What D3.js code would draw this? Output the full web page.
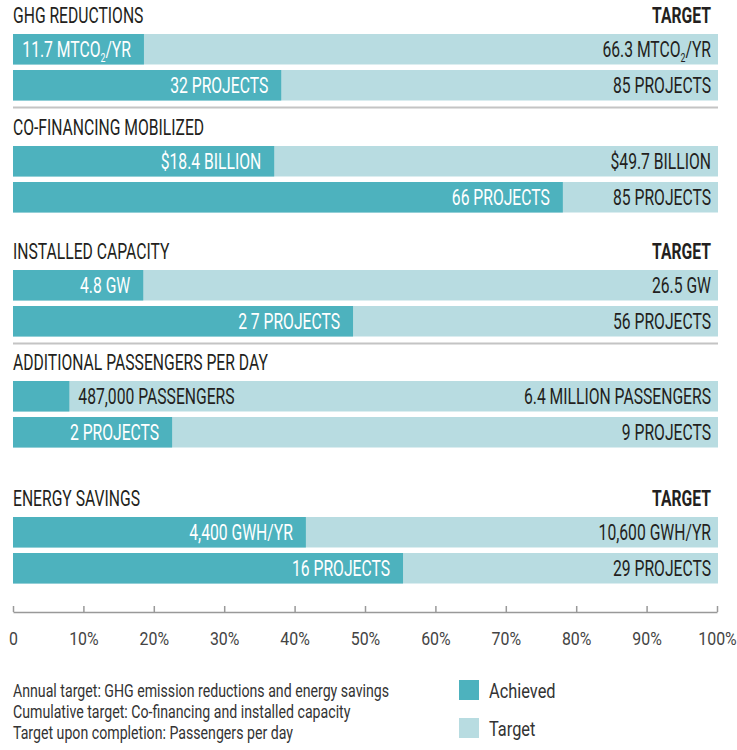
<!DOCTYPE html>
<html lang="en">
<head>
<meta charset="UTF-8">
<title>Results vs targets</title>
<script src="https://d3js.org/d3.v7.min.js"></script>
<style>
    body { margin: 0; background: #fff; }
    svg text { font-family: Roboto, "Noto Sans", sans-serif; }
</style>
</head>
<body>
<div id="chart"></div>
<script>
    // data
    const metrics = ["GHG REDUCTIONS", "CO-FINANCING MOBILIZED", "INSTALLED CAPACITY",
                     "ADDITIONAL PASSENGERS PER DAY", "ENERGY SAVINGS"];
    const achievedLabels = ["11.7 MTCO₂/YR", "$18.4 BILLION", "4.8 GW", "487,000 PASSENGERS", "4,400 GWH/YR"];
    const targetLabels = ["66.3 MTCO₂/YR", "$49.7 BILLION", "26.5 GW", "6.4 MILLION PASSENGERS", "10,600 GWH/YR"];
    const achievedPct = [18.6, 37.1, 18.5, 8.0, 41.6];
    const projectLabels = ["32 PROJECTS", "66 PROJECTS", "2 7 PROJECTS", "2 PROJECTS", "16 PROJECTS"];
    const projectTargetLabels = ["85 PROJECTS", "85 PROJECTS", "56 PROJECTS", "9 PROJECTS", "29 PROJECTS"];
    const projectPct = [38.1, 78.1, 48.3, 22.6, 55.4];
    const showTarget = [true, false, true, false, true];
    const dividerAfter = [true, false, true, false, false];
    const tickValues = [0, 10, 20, 30, 40, 50, 60, 70, 80, 90, 100];
    const notes = ["Annual target: GHG emission reductions and energy savings",
                   "Cumulative target: Co-financing and installed capacity",
                   "Target upon completion: Passengers per day"];
    const legendItems = ["Achieved", "Target"];

    const colAchieved = "#4db2be", colTarget = "#b8dce1", ink = "#231f20";
    const squeeze = 0.73; // fake condensed face

    const width = 737, height = 750;
    const svg = d3.select("#chart").append("svg")
        .attr("width", width).attr("height", height);

    const x = d3.scaleLinear().domain([0, 100]).range([13, 717]);
    const sectionY = [34, 146, 270, 381, 517];
    const rowY = d3.scaleBand().domain(["value", "projects"]).range([0, 66.5]).paddingInner(0.153);
    const bh = rowY.bandwidth();

    // text with horizontal squeeze, handles the subscript 2
    function label(g, tx, ty, str, o = {}) {
        const sx = o.sx || squeeze;
        const t = g.append("text")
            .attr("transform", `translate(${tx},${ty}) scale(${sx},1)`)
            .attr("text-anchor", o.anchor || "start")
            .attr("font-size", o.size || 21.5)
            .attr("font-weight", o.weight || 400)
            .attr("fill", o.fill || ink);
        const parts = str.split("₂");
        if (parts.length === 2) {
            t.append("tspan").text(parts[0]);
            t.append("tspan").text("2").attr("font-size", 12).attr("dy", 5);
            t.append("tspan").text(parts[1]).attr("dy", -5);
        } else {
            t.text(str);
        }
        t.node().__w = t.node().getComputedTextLength() * sx;
        return t;
    }

    metrics.forEach((m, i) => {
        const g = svg.append("g").attr("transform", `translate(0,${sectionY[i]})`);
        label(g, x(0), -11.5, m);
        if (showTarget[i]) label(g, 711, -11.5, "TARGET", { anchor: "end", weight: 700 });

        const rows = [
            { key: "value", pct: achievedPct[i], a: achievedLabels[i], t: targetLabels[i] },
            { key: "projects", pct: projectPct[i], a: projectLabels[i], t: projectTargetLabels[i] }
        ];
        rows.forEach(r => {
            const y0 = rowY(r.key);
            g.append("rect").attr("x", x(0)).attr("y", y0)
                .attr("width", x(100) + 1 - x(0)).attr("height", bh).attr("fill", colTarget);
            g.append("rect").attr("x", x(0)).attr("y", y0)
                .attr("width", x(r.pct) - x(0)).attr("height", bh).attr("fill", colAchieved);
            const base = y0 + bh / 2 + 7.5;
            label(g, 711, base, r.t, { anchor: "end" });
            const lab = label(g, x(r.pct) - 13, base, r.a, { anchor: "end", fill: "#fff" });
            // does not fit in the bar: put it after the bar in dark ink
            if (lab.node().__w + 16 > x(r.pct) - x(0)) {
                lab.attr("text-anchor", "start").attr("fill", ink)
                    .attr("transform", `translate(${x(r.pct) + 9},${base}) scale(${squeeze},1)`);
            }
        });
        if (dividerAfter[i]) {
            g.append("line").attr("x1", x(0)).attr("x2", x(100) + 1)
                .attr("y1", 73.5).attr("y2", 73.5)
                .attr("stroke", "#c4c4c4").attr("stroke-width", 2);
        }
    });

    // axis
    const axis = svg.append("g").attr("transform", "translate(0,612)")
        .call(d3.axisBottom(x).tickValues(tickValues)
            .tickSizeInner(-6).tickSizeOuter(0).tickPadding(20)
            .tickFormat(d => d === 0 ? "0" : d + "%"));
    axis.select(".domain").attr("stroke", "#999").attr("stroke-width", 1.5);
    axis.selectAll(".tick line").attr("stroke", "#999").attr("stroke-width", 1.5);
    axis.selectAll(".tick text")
        .attr("font-size", 18.5).attr("fill", "#444")
        .attr("font-family", "Roboto, sans-serif")
        .attr("transform", "scale(0.86,1)");

    // notes
    notes.forEach((n, i) => label(svg, 13, 696.5 + i * 21, n, { size: 19, sx: 0.745, fill: "#333" }));

    // legend
    const colors = [colAchieved, colTarget];
    legendItems.forEach((l, i) => {
        svg.append("rect").attr("x", 459).attr("y", 680 + i * 38)
            .attr("width", 20).attr("height", 20).attr("fill", colors[i]);
        label(svg, 489, 698 + i * 37.5, l, { size: 21, sx: 0.78, fill: "#333" });
    });
</script>
</body>
</html>
